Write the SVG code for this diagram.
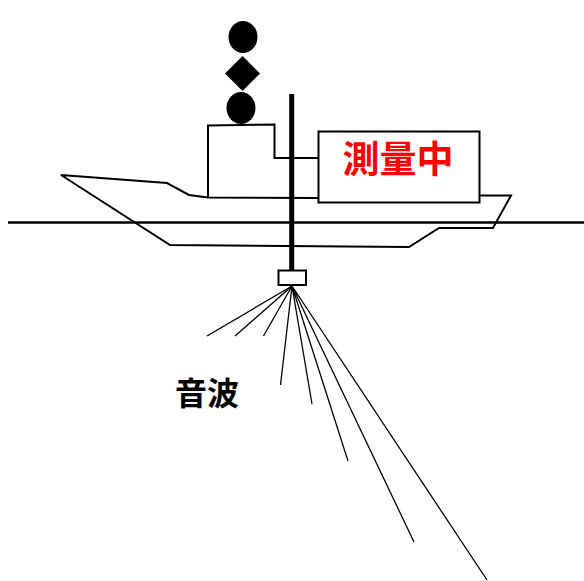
<svg xmlns="http://www.w3.org/2000/svg" width="584" height="581" viewBox="0 0 584 581">
<style>
.l{fill:none;stroke:#000;stroke-width:2;stroke-linejoin:miter}
.b{fill:none;stroke:#000;stroke-width:1.3}
.t{font-family:"Noto Sans CJK JP","Noto Sans CJK SC",sans-serif;font-weight:700;text-anchor:middle}
</style>
<rect width="584" height="581" fill="#fff"/>
<g id="hull"><path class="l" d="M318 198L208 197.500L189 195L167 183L61 175L170 245L409 247L439 228H493L511 195.500H480"/></g>
<g id="waterline"><path d="M8 222.500H584" fill="none" stroke="#000" stroke-width="2.500"/></g>
<g id="cabin"><path class="l" d="M208 197.500V125.500L274.500 124.500V158H318.500"/></g>
<g id="signal-shapes">
<ellipse cx="243" cy="37" rx="14.500" ry="16"/>
<path d="M242.500 56L260 73.500L242.500 91L225 73.500Z"/>
<ellipse cx="241" cy="108" rx="14.500" ry="16"/>
</g>
<g id="mast"><path d="M291.700 94V270" fill="none" stroke="#000" stroke-width="5"/></g>
<g id="survey-box"><rect class="l" x="318.500" y="131.500" width="161" height="71" fill="#fff"/>
<text class="t" x="398" y="172.500" font-size="37" fill="#f00">測量中</text></g>
<g id="transducer"><rect class="l" x="278.500" y="270.500" width="27.500" height="14.500" fill="#fff"/></g>
<g id="connectors">
<path class="b" d="M292 286L207 336M292 286L235 336M292 286L263.500 336M292 286L280.500 385M292 286L312 404M292 286L348 461M292 286L414 542M292 286L487 580"/>
</g>
<g id="sound-label"><text class="t" x="207" y="404.500" font-size="32" fill="#000">音波</text></g>
</svg>
